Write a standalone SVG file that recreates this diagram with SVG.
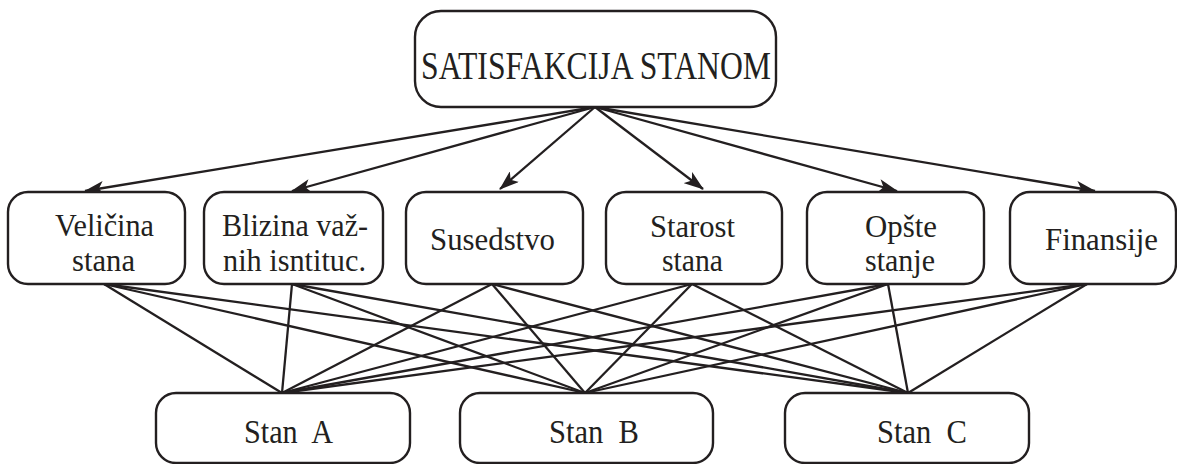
<svg xmlns="http://www.w3.org/2000/svg" width="1177" height="464" viewBox="0 0 1177 464">
<style>
.box{fill:#fff;stroke:#231f20;stroke-width:2.4}
.t{font-family:"Liberation Serif","Times New Roman","DejaVu Serif",serif;fill:#231f20;text-anchor:middle;font-size:32px;white-space:pre}
.top{font-size:39px}
.bot{font-size:33px}
.c line{stroke:#231f20;stroke-width:2.3}
.a{marker-end:url(#ah)}
</style>
<defs>
<marker id="ah" markerUnits="userSpaceOnUse" markerWidth="20" markerHeight="14" refX="19" refY="7" orient="auto">
<path d="M0,0 L20,7 L0,14 L5,7 Z" fill="#231f20"/>
</marker>
</defs>
<g class="c">
<line class="a" x1="595" y1="107" x2="85" y2="191"/>
<line class="a" x1="595" y1="107" x2="292" y2="191"/>
<line class="a" x1="595" y1="107" x2="500" y2="189"/>
<line class="a" x1="595" y1="107" x2="703" y2="189"/>
<line class="a" x1="595" y1="107" x2="897" y2="191"/>
<line class="a" x1="595" y1="107" x2="1095" y2="191"/>
<line x1="104" y1="284" x2="282" y2="393"/>
<line x1="104" y1="284" x2="585" y2="393"/>
<line x1="104" y1="284" x2="908" y2="393"/>
<line x1="292" y1="284" x2="282" y2="393"/>
<line x1="292" y1="284" x2="585" y2="393"/>
<line x1="292" y1="284" x2="908" y2="393"/>
<line x1="492" y1="284" x2="282" y2="393"/>
<line x1="492" y1="284" x2="585" y2="393"/>
<line x1="492" y1="284" x2="908" y2="393"/>
<line x1="692" y1="284" x2="282" y2="393"/>
<line x1="692" y1="284" x2="585" y2="393"/>
<line x1="692" y1="284" x2="908" y2="393"/>
<line x1="888" y1="284" x2="282" y2="393"/>
<line x1="888" y1="284" x2="585" y2="393"/>
<line x1="888" y1="284" x2="908" y2="393"/>
<line x1="1087" y1="284" x2="282" y2="393"/>
<line x1="1087" y1="284" x2="585" y2="393"/>
<line x1="1087" y1="284" x2="908" y2="393"/>
</g>
<g id="n-satisfakcija">
<rect class="box" x="415" y="11" width="361" height="96" rx="26" ry="26"/>
<text class="t top" x="596" y="79" textLength="350" lengthAdjust="spacingAndGlyphs">SATISFAKCIJA STANOM</text>
</g>
<g id="n-velicina">
<rect class="box" x="8" y="192" width="177" height="92" rx="20" ry="20"/>
<text class="t" x="104.5" y="236" textLength="99" lengthAdjust="spacingAndGlyphs">Veličina</text>
<text class="t" x="103.5" y="271" textLength="63" lengthAdjust="spacingAndGlyphs">stana</text>
</g>
<g id="n-blizina">
<rect class="box" x="204" y="192" width="179" height="92" rx="20" ry="20"/>
<text class="t" x="295" y="236" textLength="146" lengthAdjust="spacingAndGlyphs">Blizina važ-</text>
<text class="t" x="294.5" y="271" textLength="143" lengthAdjust="spacingAndGlyphs">nih isntituc.</text>
</g>
<g id="n-susedstvo">
<rect class="box" x="406" y="192" width="177" height="92" rx="20" ry="20"/>
<text class="t" x="492.5" y="250" textLength="125" lengthAdjust="spacingAndGlyphs">Susedstvo</text>
</g>
<g id="n-starost">
<rect class="box" x="606" y="192" width="176" height="92" rx="20" ry="20"/>
<text class="t" x="692.5" y="237" textLength="85" lengthAdjust="spacingAndGlyphs">Starost</text>
<text class="t" x="692.5" y="271" textLength="61" lengthAdjust="spacingAndGlyphs">stana</text>
</g>
<g id="n-opste">
<rect class="box" x="807" y="192" width="177" height="92" rx="20" ry="20"/>
<text class="t" x="901" y="237" textLength="72" lengthAdjust="spacingAndGlyphs">Opšte</text>
<text class="t" x="900" y="271" textLength="70" lengthAdjust="spacingAndGlyphs">stanje</text>
</g>
<g id="n-finansije">
<rect class="box" x="1010" y="192" width="166" height="92" rx="20" ry="20"/>
<text class="t" x="1101.5" y="250" textLength="113" lengthAdjust="spacingAndGlyphs">Finansije</text>
</g>
<g id="n-stan-a">
<rect class="box" x="156" y="393" width="254" height="70" rx="20" ry="20"/>
<text class="t bot" x="288.5" y="443" textLength="89" lengthAdjust="spacingAndGlyphs" xml:space="preserve">Stan  A</text>
</g>
<g id="n-stan-b">
<rect class="box" x="460" y="393" width="253" height="70" rx="20" ry="20"/>
<text class="t bot" x="594" y="443" textLength="90" lengthAdjust="spacingAndGlyphs" xml:space="preserve">Stan  B</text>
</g>
<g id="n-stan-c">
<rect class="box" x="785" y="393" width="244" height="70" rx="20" ry="20"/>
<text class="t bot" x="922" y="443" textLength="90" lengthAdjust="spacingAndGlyphs" xml:space="preserve">Stan  C</text>
</g>
</svg>
